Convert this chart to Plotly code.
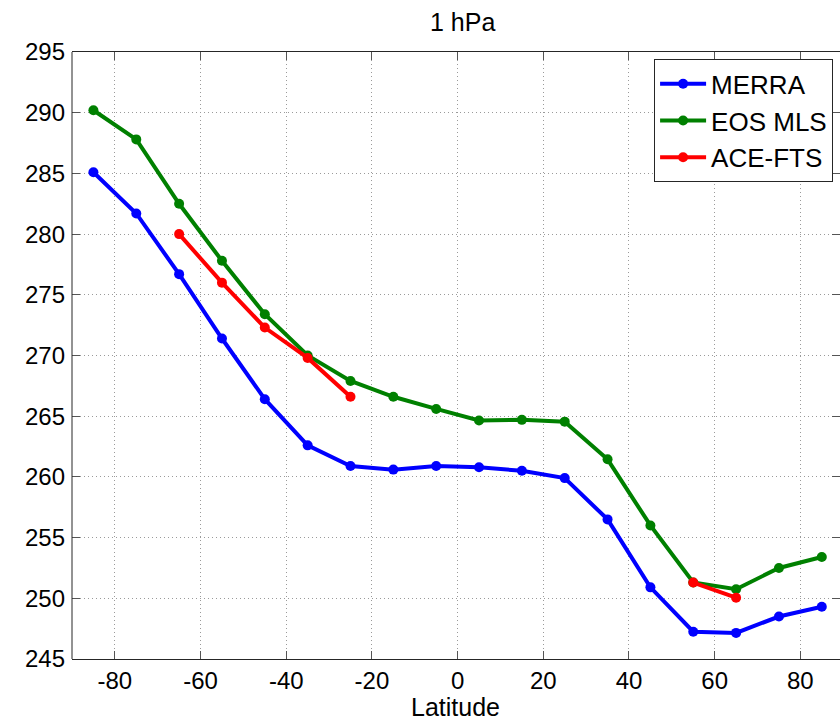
import plotly.graph_objects as go

# Zonal-mean temperature at 1 hPa, by latitude band (K)
latitude = [-85, -75, -65, -55, -45, -35, -25, -15, -5, 5, 15, 25, 35, 45, 55, 65, 75, 85]
merra = [285.1, 281.7, 276.7, 271.4, 266.4, 262.6, 260.9, 260.6, 260.9, 260.8,
         260.5, 259.9, 256.5, 250.9, 247.25, 247.15, 248.5, 249.3]
eos_mls = [290.2, 287.8, 282.5, 277.8, 273.4, 270.0, 267.9, 266.6, 265.6, 264.65,
           264.7, 264.55, 261.45, 256.0, 251.3, 250.75, 252.5, 253.4]
ace_fts = [None, None, 280.0, 276.0, 272.3, 269.8, 266.6, None, None, None,
           None, None, None, None, 251.3, 250.05, None, None]

series = [("MERRA", merra, "#0000ff"),
          ("EOS MLS", eos_mls, "#008000"),
          ("ACE-FTS", ace_fts, "#ff0000")]

x_ticks = [-80, -60, -40, -20, 0, 20, 40, 60, 80]
x_tick_labels = ["-80", "-60", "-40", "-20", "0", "20", "40", "60", "80"]
y_ticks = [245, 250, 255, 260, 265, 270, 275, 280, 285, 290, 295]

FONT = "Liberation Sans, Arial, Helvetica, sans-serif"

fig = go.Figure()
for name, values, color in series:
    fig.add_trace(go.Scatter(
        x=latitude, y=values, name=name, mode="lines+markers",
        line=dict(color=color, width=4),
        marker=dict(color=color, size=10),
        connectgaps=False,
    ))

axis_common = dict(
    ticks="inside", ticklen=8, tickwidth=1, tickcolor="#555555",
    showgrid=True, gridcolor="#9a9a9a", gridwidth=1, griddash="1px,3px",
    zeroline=False,
    tickfont=dict(family=FONT, size=24, color="black"),
)

fig.update_xaxes(
    range=[-90, 89.25], tickvals=x_ticks, ticktext=x_tick_labels,
    showline=True, linecolor="#262626", linewidth=1, mirror="ticks",
    ticklabelstandoff=0,
    **axis_common,
)
fig.update_yaxes(
    range=[245, 295], tickvals=y_ticks,
    showline=False, mirror="ticks",
    ticklabelstandoff=6,
    **axis_common,
)

# left frame edge
fig.add_shape(type="line", xref="paper", yref="paper", x0=0, x1=0, y0=0, y1=1,
              line=dict(color="#262626", width=1))

fig.add_annotation(text="1 hPa", xref="paper", yref="paper",
                   x=(462 - 72) / 768, y=1.049, xanchor="center", yanchor="middle",
                   showarrow=False, font=dict(family=FONT, size=25, color="black"))
fig.add_annotation(text="Latitude", xref="paper", yref="paper",
                   x=(455 - 72) / 768, y=-0.079, xanchor="center", yanchor="middle",
                   showarrow=False, font=dict(family=FONT, size=25, color="black"))

fig.update_layout(
    width=840, height=721,
    margin=dict(l=72, r=0, t=52, b=62, pad=0),
    plot_bgcolor="white", paper_bgcolor="white",
    showlegend=True,
    legend=dict(
        x=0.991, y=0.988, xanchor="right", yanchor="top",
        bgcolor="white", bordercolor="#262626", borderwidth=1,
        font=dict(family=FONT, size=26, color="black"),
        itemwidth=46,
    ),
)

fig.write_html("out.html")
